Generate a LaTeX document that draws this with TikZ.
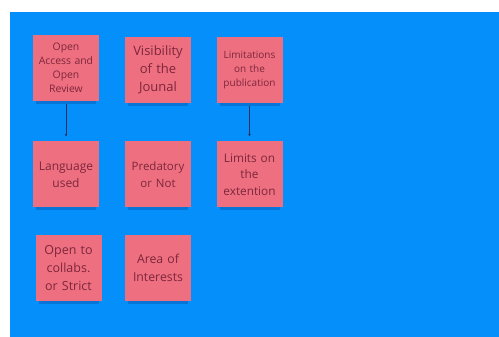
\documentclass[tikz,border=0pt]{standalone}
\usepackage{fontspec}
\setmainfont{Open Sans}
\usetikzlibrary{arrows.meta}
\definecolor{bgblue}{RGB}{5,143,250}
\definecolor{notepink}{RGB}{238,112,128}
\definecolor{notetext}{RGB}{125,38,60}
\definecolor{shadowblue}{RGB}{10,70,150}
\definecolor{arrowcol}{RGB}{35,45,95}
\begin{document}
\begin{tikzpicture}[x=1pt,y=-1pt,
  sticky/.style={fill=notepink, draw=none, minimum width=66pt, minimum height=66pt,
    inner sep=0pt, align=center, text=notetext, text width=64pt},
  conn/.style={draw=arrowcol, line width=0.6pt, -{Stealth[length=2.5pt,width=2.5pt]}}]
\useasboundingbox (0,0) rectangle (499,337);
\fill[white] (0,0) rectangle (499,337);
\fill[bgblue] (10,12) rectangle (499,337);
% shadows
\foreach \cx/\cy in {66/68, 158/70, 249.5/70, 66/174.5, 158/174.5, 249.5/174.5, 68.5/268, 158/268}{
  \fill[shadowblue, opacity=0.35] (\cx-30,\cy+31) rectangle (\cx+30,\cy+36);
}
\node[sticky, font=\fontsize{10.4}{14}\selectfont] (oa) at (66,68) {Open\\Access and\\Open\\Review};
\node[sticky, font=\fontsize{13}{18}\selectfont] (vis) at (158,70) {Visibility\\of the\\Jounal};
\node[sticky, font=\fontsize{10}{14.3}\selectfont] (lim) at (249.5,70) {Limitations\\on the\\publication};
\node[sticky, font=\fontsize{12}{16.7}\selectfont] (lang) at (66,174.5) {Language\\used};
\node[sticky, font=\fontsize{11.5}{16.7}\selectfont] (pred) at (158,174.5) {Predatory\\or Not};
\node[sticky, font=\fontsize{11.8}{16.3}\selectfont] (ext) at (249.5,174.5) {Limits on\\the\\extention};
\node[sticky, font=\fontsize{12.5}{18}\selectfont] (coll) at (68.5,268) {Open to\\collabs.\\or Strict};
\node[sticky, font=\fontsize{12.3}{17.3}\selectfont] (area) at (158,268) {Area of\\Interests};
\draw[conn] ([yshift=-3pt]oa.south) -- ([yshift=5pt]lang.north);
\draw[conn] ([yshift=-3pt]lim.south) -- ([yshift=5pt]ext.north);
\end{tikzpicture}
\end{document}
